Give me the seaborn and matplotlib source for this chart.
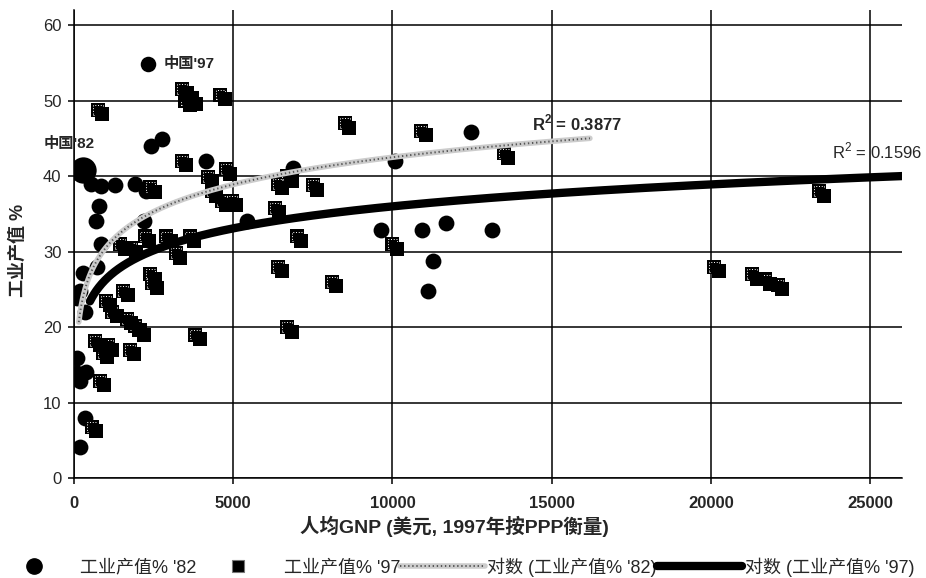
import numpy as np
import pandas as pd
import matplotlib
matplotlib.use("Agg")
import matplotlib.pyplot as plt
import matplotlib.transforms as mtransforms
from matplotlib.lines import Line2D
from matplotlib.legend_handler import HandlerTuple
import seaborn as sns

# Industry value added (% of GDP) against GNP per capita (USD, 1997 PPP)
gnp_82 = [534, 848, 1287, 1915, 2260, 785, 690, 2197, 848, 722, 283, 188, 345,
          94, 94, 94, 188, 377, 345, 188, 2420, 2760, 4143, 10076, 12460, 6875,
          5430, 9637, 10924, 11677, 13121, 11270, 11112]
ind_82 = [39.0, 38.7, 38.8, 39.0, 38.0, 36.1, 34.1, 34.1, 31.0, 28.0, 27.1, 24.8, 22.0,
          23.8, 15.9, 13.9, 12.9, 14.0, 7.9, 4.1, 44.0, 44.9, 42.0, 42.0, 45.8, 41.1,
          34.1, 32.9, 32.9, 33.8, 32.9, 28.8, 24.8]

gnp_97 = [750, 3400, 3550, 3700, 3500, 4600, 3390, 4206, 4771, 4332, 4646, 4960,
          2400, 6400, 6700, 7500, 6300, 7000, 2229, 2890, 3640, 3200, 1450, 1800,
          2400, 2450, 1550, 1664, 1915, 2072, 3800, 660, 1067, 910, 1758, 816, 550,
          1000, 1200, 8500, 10900, 13500, 10000, 8100, 6400, 6700,
          23400, 20100, 21300, 21700, 22100]
ind_97 = [48.8, 51.5, 51.0, 50.2, 50.0, 50.8, 42.0, 39.9, 40.9, 38.0, 36.7, 36.7,
          38.5, 39.0, 40.0, 38.8, 35.8, 32.0, 32.0, 32.0, 32.0, 29.8, 31.0, 30.5,
          27.0, 25.8, 24.8, 21.1, 20.2, 19.6, 19.0, 18.2, 17.6, 16.6, 17.0, 12.9, 6.8,
          23.5, 22.0, 47.0, 46.0, 43.0, 31.0, 26.0, 28.0, 20.0,
          38.0, 28.0, 27.0, 26.3, 25.6]

china_82 = (283, 40.8)
china_97 = (2320, 54.8)
china_82_label = "中国'82"
china_97_label = "中国'97"

# Logarithmic trend lines, y = a * ln(x) + b
log_fit_82 = (5.2, -5.4)
log_fit_97 = (4.2, -2.7)
fit_span_82 = (150, 16200)
fit_span_97 = (500, 26000)
r2_82 = "0.3877"
r2_97 = "0.1596"

x_ticks = [0, 5000, 10000, 15000, 20000, 25000]
y_ticks = [0, 10, 20, 30, 40, 50, 60]
x_label = "人均GNP (美元, 1997年按PPP衡量)"
y_label = "工业产值 %"
legend_labels = ["工业产值% '82", "工业产值% '97", "对数 (工业产值% '82)", "对数 (工业产值% '97)"]

sns.set_theme(style="white")
plt.rcParams["font.family"] = ["Liberation Sans", "Noto Sans CJK SC"]
plt.rcParams["mathtext.fontset"] = "custom"
plt.rcParams["mathtext.rm"] = "Liberation Sans"
plt.rcParams["mathtext.bf"] = "Liberation Sans:bold"

fig = plt.figure(figsize=(9.26, 5.78), dpi=100)
W, H = 926, 578
ax = fig.add_axes([74 / W, 100 / H, 828 / W, 468 / H])

df82 = pd.DataFrame({"gnp": gnp_82, "ind": ind_82})
df97 = pd.DataFrame({"gnp": gnp_97, "ind": ind_97})

# 1982 points: plain black dots
sns.scatterplot(data=df82, x="gnp", y="ind", ax=ax, marker="o", s=130,
                color="black", linewidth=0, zorder=3, legend=False)
ax.scatter([china_82[0]], [china_82[1]], marker="o", s=360, color="black",
           linewidth=0, zorder=3)
ax.scatter([china_97[0]], [china_97[1]], marker="o", s=125, color="black",
           linewidth=0, zorder=3)

# 1997 points: black squares with a dotted inner rim and a drop shadow
sns.scatterplot(data=df97, x="gnp", y="ind", ax=ax, marker="s", s=95,
                color="black", linewidth=0, zorder=4, legend=False)
ax.scatter(df97["gnp"], df97["ind"], marker="s", s=50, facecolors="none",
           edgecolors="white", linewidths=0.7, linestyles=(0, (1, 1.8)), zorder=4)
sns.scatterplot(data=df97, x="gnp", y="ind", ax=ax, marker="s", s=95,
                color="black", linewidth=0, zorder=4, legend=False)
ax.collections[-1].set_offset_transform(
    ax.transData + mtransforms.ScaledTranslation(4.5 / 100, -4.5 / 100, fig.dpi_scale_trans))

# Trend lines
xs82 = np.geomspace(*fit_span_82, 300)
xs97 = np.geomspace(*fit_span_97, 300)
tr82 = pd.DataFrame({"gnp": xs82, "ind": log_fit_82[0] * np.log(xs82) + log_fit_82[1]})
tr97 = pd.DataFrame({"gnp": xs97, "ind": log_fit_97[0] * np.log(xs97) + log_fit_97[1]})
sns.lineplot(data=tr82, x="gnp", y="ind", ax=ax, color="#cccccc", lw=4.0, zorder=5)
sns.lineplot(data=tr82, x="gnp", y="ind", ax=ax, color="#555555", lw=1.4,
             linestyle=(0, (0.7, 1.4)), zorder=6)
sns.lineplot(data=tr97, x="gnp", y="ind", ax=ax, color="black", lw=6,
             solid_capstyle="round", zorder=7)

ax.text(14380, 47.0, "R$^\\mathbf{2}$ = " + r2_82, fontsize=12, fontweight="bold",
        va="center", ha="left", zorder=8)
ax.text(23800, 43.3, "R$^2$ = " + r2_97, fontsize=12, va="center", ha="left",
        clip_on=False, zorder=8)

ax.annotate(china_97_label, xy=china_97, xytext=(11, 0), textcoords="offset points",
            va="center", ha="left", fontsize=11, fontweight="bold")
ax.annotate(china_82_label, xy=china_82, xytext=(-28, 19), textcoords="offset points",
            va="center", ha="left", fontsize=11, fontweight="bold",
            annotation_clip=False)

ax.set_xlim(0, 26000)
ax.set_ylim(0, 62)
ax.set_xticks(x_ticks)
ax.set_yticks(y_ticks)
ax.set_xticklabels([str(v) for v in x_ticks], fontsize=12, fontweight="bold")
ax.set_yticklabels([str(v) for v in y_ticks], fontsize=12)
ax.set_axisbelow(True)
ax.grid(True, color="black", lw=1.1)
for side in ("top", "right"):
    ax.spines[side].set_visible(False)
for side in ("left", "bottom"):
    ax.spines[side].set_color("black")
    ax.spines[side].set_linewidth(1.1)
ax.tick_params(axis="both", direction="out", length=4, width=1.1, color="black",
               left=True, bottom=True)
ax.tick_params(axis="x", pad=9)
ax.tick_params(axis="y", pad=5)

ax.set_xlabel(x_label, fontsize=14, fontweight="bold")
ax.xaxis.set_label_coords((454 - 74) / 828, (478 - 526) / 468)
ax.xaxis.label.set_va("center")
ax.set_ylabel(y_label, fontsize=13, fontweight="bold")
ax.yaxis.set_label_coords((18 - 74) / 828, (478 - 250) / 468)
ax.yaxis.label.set_va("center")

# Legend along the bottom edge
h_dot = Line2D([], [], marker="o", ms=11, color="black", lw=0)
h_sq = Line2D([], [], marker="s", ms=9, color="black", lw=0,
              markeredgecolor="#777777", markeredgewidth=0.8)
h_tr82 = (Line2D([], [], color="#cccccc", lw=4.0),
          Line2D([], [], color="#555555", lw=1.4, linestyle=(0, (0.7, 1.4))))
h_tr97 = Line2D([], [], color="black", lw=6, solid_capstyle="round")
fig.legend([h_dot, h_sq, h_tr82, h_tr97], legend_labels, ncol=4,
           loc="center left", bbox_to_anchor=(-8 / W, 1 - 567 / H),
           frameon=False, fontsize=13, handlelength=4.7, handletextpad=0.15,
           columnspacing=0.0, borderpad=0, borderaxespad=0,
           handler_map={tuple: HandlerTuple(ndivide=1)})

fig.savefig("out.png", dpi=100)
